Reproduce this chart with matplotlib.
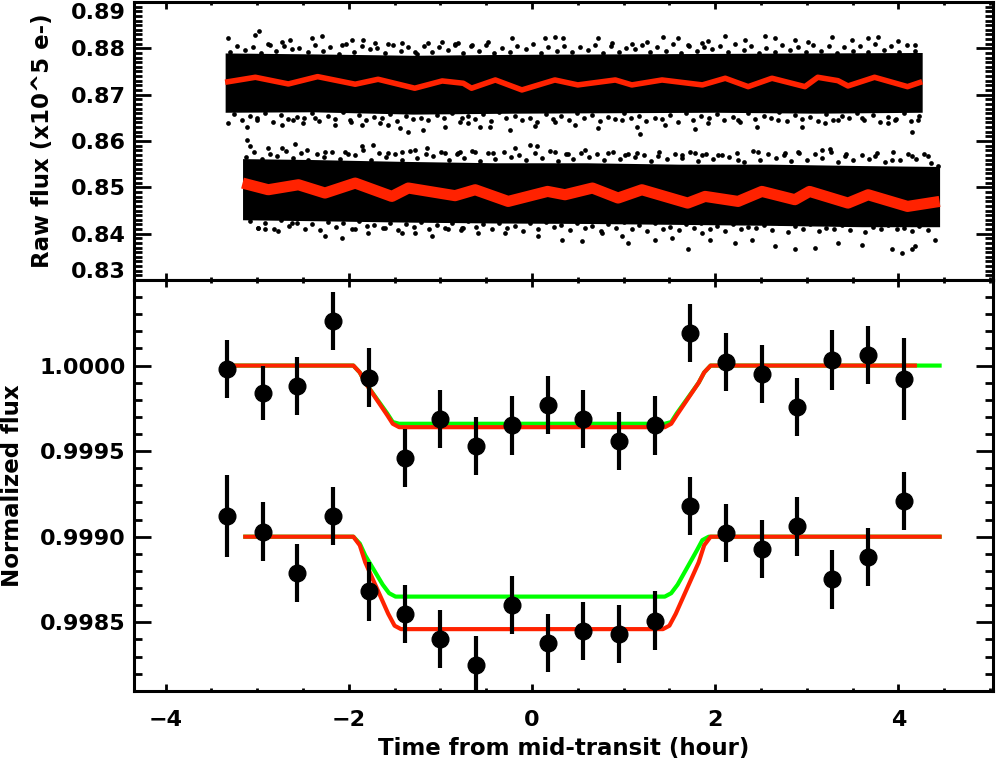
import numpy as np
import matplotlib
matplotlib.use('Agg')
import matplotlib.pyplot as plt
from matplotlib.ticker import MultipleLocator, FormatStrFormatter, FuncFormatter

plt.rcParams['font.family'] = ['DejaVu Sans']
plt.rcParams['font.weight'] = 'bold'

RED = '#ff2200'
GREEN = '#00ff00'

# ---- top panel: raw photometry (two visits) ----
# binned red trend, visit 1 (upper)
raw1_t = [-3.35, -3.02, -2.66, -2.34, -1.93, -1.68, -1.28, -0.98, -0.75, -0.66, -0.40, -0.11, 0.25, 0.50,
	0.91, 1.09, 1.42, 1.86, 2.11, 2.36, 2.62, 2.98, 3.12, 3.34, 3.45, 3.74, 4.10, 4.26]
raw1_f = [0.87268, 0.87375, 0.87231, 0.87389, 0.87225, 0.87332, 0.87139, 0.87296, 0.87246, 0.87139, 0.87317,
	0.87102, 0.87317, 0.87210, 0.87317, 0.87210, 0.87317, 0.87210, 0.87354, 0.87173, 0.87354, 0.87173,
	0.87375, 0.87302, 0.87188, 0.87375, 0.87173, 0.87280]
# binned red trend, visit 2 (lower)
raw2_t = [-3.16, -2.88, -2.55, -2.26, -1.93, -1.53, -1.35, -0.84, -0.62, -0.26, 0.17, 0.36, 0.66, 0.94,
	1.20, 1.70, 1.89, 2.25, 2.51, 2.87, 3.03, 3.45, 3.67, 4.10, 4.45]
raw2_f = [0.85092, 0.84948, 0.85056, 0.84877, 0.85092, 0.84804, 0.84985, 0.84820, 0.84948, 0.84696, 0.84912,
	0.84840, 0.84985, 0.84769, 0.84948, 0.84660, 0.84804, 0.84696, 0.84912, 0.84733, 0.84912, 0.84660,
	0.84840, 0.84588, 0.84696]

# dense part of the unbinned points
env1_t = [-3.35, -2.4, -1.3, -0.2, 0.9, 2.0, 3.1, 4.26]
env1_hi = [0.8790, 0.8788, 0.8785, 0.8787, 0.8788, 0.8789, 0.8790, 0.8791]
env1_lo = [0.8662, 0.8663, 0.8658, 0.8660, 0.8661, 0.8662, 0.8660, 0.8662]
env2_t = [-3.16, -2.4, -1.4, -0.4, 0.6, 1.6, 2.6, 3.6, 4.45]
env2_hi = [0.8562, 0.8560, 0.8556, 0.8553, 0.8553, 0.8550, 0.8550, 0.8547, 0.8545]
env2_lo = [0.8430, 0.8428, 0.8425, 0.8423, 0.8422, 0.8420, 0.8418, 0.8415, 0.8415]

# ragged fringe on the edges of the dense part (inner rows)
fr1a_t = [-3.30, -3.13, -2.96, -2.79, -2.62, -2.45, -2.28, -2.11, -1.94, -1.77, -1.60, -1.43, -1.26, -1.09,
	-0.92, -0.75, -0.58, -0.41, -0.24, -0.07, 0.10, 0.27, 0.44, 0.61, 0.78, 0.95, 1.12, 1.29, 1.46, 1.63,
	1.80, 1.97, 2.14, 2.31, 2.48, 2.65, 2.82, 2.99, 3.16, 3.33, 3.50, 3.67, 3.84, 4.01, 4.18]
fr1a_f = [0.8792, 0.8797, 0.8789, 0.8794, 0.8799, 0.8791, 0.8795, 0.8788, 0.8793, 0.8798, 0.8790, 0.8794,
	0.8787, 0.8792, 0.8796, 0.8790, 0.8795, 0.8789, 0.8793, 0.8799, 0.8790, 0.8794, 0.8792, 0.8797, 0.8789,
	0.8793, 0.8798, 0.8791, 0.8795, 0.8789, 0.8794, 0.8798, 0.8792, 0.8796, 0.8789, 0.8793, 0.8797, 0.8791,
	0.8795, 0.8790, 0.8794, 0.8792, 0.8797, 0.8791, 0.8795]
fr1b_t = [-3.25, -3.08, -2.91, -2.74, -2.57, -2.40, -2.23, -2.06, -1.89, -1.72, -1.55, -1.38, -1.21, -1.04,
	-0.87, -0.70, -0.53, -0.36, -0.19, -0.02, 0.15, 0.32, 0.49, 0.66, 0.83, 1.00, 1.17, 1.34, 1.51, 1.68,
	1.85, 2.02, 2.19, 2.36, 2.53, 2.70, 2.87, 3.04, 3.21, 3.38, 3.55, 3.72, 3.89, 4.06, 4.23]
fr1b_f = [0.8659, 0.8654, 0.8661, 0.8656, 0.8652, 0.8660, 0.8655, 0.8662, 0.8657, 0.8651, 0.8659, 0.8654,
	0.8649, 0.8656, 0.8660, 0.8653, 0.8658, 0.8662, 0.8655, 0.8650, 0.8659, 0.8654, 0.8661, 0.8656, 0.8652,
	0.8660, 0.8655, 0.8649, 0.8657, 0.8661, 0.8654, 0.8659, 0.8652, 0.8660, 0.8655, 0.8662, 0.8657, 0.8651,
	0.8659, 0.8654, 0.8661, 0.8656, 0.8652, 0.8660, 0.8655]
fr2a_t = [-3.12, -2.95, -2.78, -2.61, -2.44, -2.27, -2.10, -1.93, -1.76, -1.59, -1.42, -1.25, -1.08, -0.91,
	-0.74, -0.57, -0.40, -0.23, -0.06, 0.11, 0.28, 0.45, 0.62, 0.79, 0.96, 1.13, 1.30, 1.47, 1.64, 1.81,
	1.98, 2.15, 2.32, 2.49, 2.66, 2.83, 3.00, 3.17, 3.34, 3.51, 3.68, 3.85, 4.02, 4.19, 4.36]
fr2a_f = [0.8565, 0.8561, 0.8568, 0.8563, 0.8559, 0.8566, 0.8562, 0.8569, 0.8560, 0.8565, 0.8558, 0.8563,
	0.8567, 0.8560, 0.8564, 0.8557, 0.8562, 0.8566, 0.8559, 0.8563, 0.8557, 0.8561, 0.8565, 0.8558, 0.8562,
	0.8566, 0.8556, 0.8561, 0.8564, 0.8557, 0.8561, 0.8565, 0.8555, 0.8560, 0.8563, 0.8556, 0.8560, 0.8564,
	0.8554, 0.8559, 0.8562, 0.8555, 0.8559, 0.8562, 0.8553]
fr2b_t = [-3.08, -2.91, -2.74, -2.57, -2.40, -2.23, -2.06, -1.89, -1.72, -1.55, -1.38, -1.21, -1.04, -0.87,
	-0.70, -0.53, -0.36, -0.19, -0.02, 0.15, 0.32, 0.49, 0.66, 0.83, 1.00, 1.17, 1.34, 1.51, 1.68, 1.85,
	2.02, 2.19, 2.36, 2.53, 2.70, 2.87, 3.04, 3.21, 3.38, 3.55, 3.72, 3.89, 4.06, 4.23, 4.40]
fr2b_f = [0.8427, 0.8422, 0.8429, 0.8424, 0.8420, 0.8426, 0.8422, 0.8428, 0.8419, 0.8424, 0.8421, 0.8426,
	0.8418, 0.8423, 0.8427, 0.8420, 0.8424, 0.8417, 0.8422, 0.8426, 0.8419, 0.8423, 0.8416, 0.8421, 0.8425,
	0.8418, 0.8422, 0.8415, 0.8420, 0.8424, 0.8417, 0.8421, 0.8414, 0.8419, 0.8423, 0.8416, 0.8420, 0.8413,
	0.8418, 0.8422, 0.8415, 0.8419, 0.8412, 0.8417, 0.8421]

# thinner fringe a little further out (middle rows)
fr1c_t = [-3.22, -3.05, -2.88, -2.71, -2.54, -2.37, -2.20, -2.03, -1.86, -1.69, -1.52, -1.35, -1.18, -1.01,
	-0.84, -0.67, -0.50, -0.33, -0.16, 0.01, 0.18, 0.35, 0.52, 0.69, 0.86, 1.03, 1.20, 1.37, 1.54, 1.71,
	1.88, 2.05, 2.22, 2.39, 2.56, 2.73, 2.90, 3.07, 3.24, 3.41, 3.58, 3.75, 3.92, 4.09]
fr1c_f = [0.8806, 0.8802, 0.8809, 0.8804, 0.8801, 0.8807, 0.8803, 0.8810, 0.8805, 0.8801, 0.8808, 0.8803,
	0.8806, 0.8802, 0.8809, 0.8804, 0.8807, 0.8801, 0.8805, 0.8810, 0.8803, 0.8806, 0.8802, 0.8808, 0.8804,
	0.8801, 0.8807, 0.8803, 0.8809, 0.8805, 0.8802, 0.8806, 0.8810, 0.8804, 0.8801, 0.8807, 0.8803, 0.8808,
	0.8805, 0.8802, 0.8806, 0.8809, 0.8804, 0.8807]
fr1d_t = [-3.17, -3.00, -2.83, -2.66, -2.49, -2.32, -2.15, -1.98, -1.81, -1.64, -1.47, -1.30, -1.13, -0.96,
	-0.79, -0.62, -0.45, -0.28, -0.11, 0.06, 0.23, 0.40, 0.57, 0.74, 0.91, 1.08, 1.25, 1.42, 1.59, 1.76,
	1.93, 2.10, 2.27, 2.44, 2.61, 2.78, 2.95, 3.12, 3.29, 3.46, 3.63, 3.80, 3.97, 4.14]
fr1d_f = [0.8645, 0.8649, 0.8642, 0.8647, 0.8650, 0.8644, 0.8648, 0.8641, 0.8646, 0.8650, 0.8643, 0.8648,
	0.8645, 0.8649, 0.8642, 0.8647, 0.8644, 0.8650, 0.8646, 0.8641, 0.8648, 0.8645, 0.8649, 0.8643, 0.8647,
	0.8650, 0.8644, 0.8648, 0.8642, 0.8646, 0.8649, 0.8645, 0.8641, 0.8647, 0.8650, 0.8644, 0.8648, 0.8643,
	0.8646, 0.8649, 0.8645, 0.8642, 0.8647, 0.8644]
fr2c_t = [-3.03, -2.86, -2.69, -2.52, -2.35, -2.18, -2.01, -1.84, -1.67, -1.50, -1.33, -1.16, -0.99, -0.82,
	-0.65, -0.48, -0.31, -0.14, 0.03, 0.20, 0.37, 0.54, 0.71, 0.88, 1.05, 1.22, 1.39, 1.56, 1.73, 1.90,
	2.07, 2.24, 2.41, 2.58, 2.75, 2.92, 3.09, 3.26, 3.43, 3.60, 3.77, 3.94, 4.11, 4.28]
fr2c_f = [0.8576, 0.8572, 0.8579, 0.8574, 0.8571, 0.8577, 0.8573, 0.8580, 0.8575, 0.8571, 0.8578, 0.8573,
	0.8576, 0.8572, 0.8578, 0.8574, 0.8576, 0.8570, 0.8574, 0.8579, 0.8572, 0.8575, 0.8571, 0.8577, 0.8573,
	0.8570, 0.8576, 0.8572, 0.8577, 0.8573, 0.8570, 0.8574, 0.8578, 0.8572, 0.8569, 0.8575, 0.8571, 0.8576,
	0.8573, 0.8569, 0.8574, 0.8576, 0.8571, 0.8573]
fr2d_t = [-2.99, -2.82, -2.65, -2.48, -2.31, -2.14, -1.97, -1.80, -1.63, -1.46, -1.29, -1.12, -0.95, -0.78,
	-0.61, -0.44, -0.27, -0.10, 0.07, 0.24, 0.41, 0.58, 0.75, 0.92, 1.09, 1.26, 1.43, 1.60, 1.77, 1.94,
	2.11, 2.28, 2.45, 2.62, 2.79, 2.96, 3.13, 3.30, 3.47, 3.64, 3.81, 3.98, 4.15, 4.32]
fr2d_f = [0.8413, 0.8409, 0.8416, 0.8411, 0.8408, 0.8414, 0.8410, 0.8417, 0.8412, 0.8407, 0.8414, 0.8409,
	0.8412, 0.8408, 0.8415, 0.8410, 0.8413, 0.8406, 0.8411, 0.8415, 0.8408, 0.8412, 0.8406, 0.8413, 0.8409,
	0.8405, 0.8411, 0.8407, 0.8413, 0.8409, 0.8405, 0.8410, 0.8413, 0.8407, 0.8404, 0.8410, 0.8406, 0.8411,
	0.8408, 0.8403, 0.8409, 0.8411, 0.8405, 0.8408]

# sparse points far outside the dense part
out1_t = [-3.315, -3.024, -2.977, -2.860, -2.733, -2.642, -2.405, -2.289, -2.078, -1.969, -1.841, -1.714,
	-1.568, -1.423, -1.277, -1.132, -0.986, -0.840,
	-3.315, -3.115, -3.006, -2.733, -2.606, -2.496, -2.369, -2.151, -1.987, -1.860, -1.659, -1.568,
	-1.441, -1.350, -1.186, -0.950, -0.768,
	-0.804, -0.659, -0.477, -0.222, 0.142, 0.251, 0.342, 0.724, 0.870, 1.088, 1.252, 1.434, 1.598, 1.707, 1.852,
	-0.695, -0.568, -0.458, -0.240, 0.033, 0.251, 0.469, 0.724, 0.979, 1.143, 1.179, 1.452, 1.779,
	1.925, 2.107, 2.325, 2.544, 2.653, 2.871, 3.017, 3.272, 3.490, 3.672, 3.781, 3.999, 4.181,
	1.925, 2.253, 2.453, 2.689, 2.944, 3.199, 3.344, 3.599, 3.890, 3.963, 4.145, 4.218]
out1_f = [0.8822, 0.8829, 0.8837, 0.8807, 0.8814, 0.8818, 0.8822, 0.8827, 0.8807, 0.8818, 0.8818, 0.8811,
	0.8809, 0.8811, 0.8793, 0.8811, 0.8814, 0.8807,
	0.8638, 0.8631, 0.8646, 0.8635, 0.8646, 0.8638, 0.8649, 0.8635, 0.8646, 0.8635, 0.8638, 0.8635,
	0.8628, 0.8620, 0.8624, 0.8631, 0.8649,
	0.8811, 0.8807, 0.8814, 0.8822, 0.8822, 0.8825, 0.8822, 0.8822, 0.8811, 0.8809, 0.8814, 0.8825, 0.8822,
	0.8807, 0.8811,
	0.8638, 0.8631, 0.8631, 0.8624, 0.8633, 0.8642, 0.8635, 0.8628, 0.8646, 0.8631, 0.8615, 0.8635, 0.8626,
	0.8816, 0.8827, 0.8818, 0.8827, 0.8822, 0.8818, 0.8814, 0.8825, 0.8818, 0.8822, 0.8825, 0.8816, 0.8807,
	0.8638, 0.8646, 0.8631, 0.8646, 0.8631, 0.8638, 0.8646, 0.8649, 0.8638, 0.8646, 0.8620, 0.8646]
out2_t = [-3.115, -3.079, -2.878, -2.733, -2.587, -2.460, -2.260, -2.041, -1.860, -1.732, -1.568, -1.423,
	-1.277, -1.150, -0.950, -0.786,
	-2.988, -2.915, -2.769, -2.624, -2.260, -2.078, -1.932, -1.787, -1.605, -1.423, -1.277, -1.095, -0.913, -0.750,
	-0.804, -0.622, -0.422, -0.186, -0.022, 0.051, 0.251, 0.397, 0.579, 0.833, 1.015, 1.143, 1.379, 1.634, 1.779,
	-0.768, -0.586, -0.295, 0.069, 0.324, 0.542, 0.761, 0.979, 1.052, 1.343, 1.525, 1.707, 1.852,
	1.852, 2.034, 2.253, 2.471, 2.762, 2.908, 3.162, 3.253, 3.417, 3.745, 3.927, 4.145, 4.327, 4.436,
	1.943, 2.216, 2.398, 2.653, 2.871, 3.090, 3.344, 3.599, 3.927, 4.036, 4.145, 4.181, 4.400]
out2_f = [0.8603, 0.8590, 0.8585, 0.8585, 0.8594, 0.8581, 0.8577, 0.8577, 0.8590, 0.8592, 0.8574, 0.8577,
	0.8581, 0.8585, 0.8574, 0.8577,
	0.8412, 0.8409, 0.8405, 0.8423, 0.8394, 0.8391, 0.8409, 0.8401, 0.8412, 0.8401, 0.8401, 0.8394, 0.8409, 0.8412,
	0.8574, 0.8577, 0.8574, 0.8585, 0.8592, 0.8590, 0.8577, 0.8572, 0.8581, 0.8575, 0.8570, 0.8574, 0.8567,
	0.8570, 0.8574,
	0.8412, 0.8401, 0.8401, 0.8394, 0.8387, 0.8384, 0.8401, 0.8394, 0.8379, 0.8387, 0.8391, 0.8366, 0.8401,
	0.8570, 0.8570, 0.8559, 0.8577, 0.8574, 0.8577, 0.8581, 0.8582, 0.8567, 0.8567, 0.8559, 0.8568, 0.8567,
	0.8545,
	0.8387, 0.8380, 0.8387, 0.8373, 0.8366, 0.8369, 0.8380, 0.8376, 0.8366, 0.8358, 0.8366, 0.8373, 0.8387]

# ---- bottom panel: binned, normalized light curves ----
bin_t = [-3.33, -2.94, -2.56, -2.17, -1.78, -1.39, -1.00, -0.61, -0.22, 0.17, 0.56, 0.95, 1.34, 1.73,
	2.12, 2.51, 2.89, 3.28, 3.67, 4.06]
lc1_f = [0.99998, 0.99984, 0.99988, 1.00026, 0.99993, 0.99946, 0.99969, 0.99953, 0.99965, 0.99977,
	0.99969, 0.99956, 0.99965, 1.00019, 1.00002, 0.99995, 0.99976, 1.00003, 1.00006, 0.99992]
lc1_e = [0.00017, 0.00016, 0.00017, 0.00017, 0.00017, 0.00017, 0.00017, 0.00017, 0.00017, 0.00017,
	0.00017, 0.00017, 0.00017, 0.00017, 0.00017, 0.00017, 0.00017, 0.000175, 0.00017, 0.00024]
lc2_f = [0.99912, 0.99903, 0.99879, 0.99912, 0.99868, 0.99855, 0.99840, 0.99825, 0.99860, 0.99838,
	0.99845, 0.99843, 0.99851, 0.99918, 0.99902, 0.99893, 0.99906, 0.99875, 0.99888, 0.99921]
lc2_e = [0.00024, 0.00017, 0.00017, 0.00017, 0.00017, 0.00017, 0.00017, 0.00017, 0.00017, 0.00017,
	0.00017, 0.00017, 0.00017, 0.00017, 0.00017, 0.00017, 0.00017, 0.00017, 0.00017, 0.00017]

# transit models
m1r_t = [-3.33, -1.95, -1.88, -1.82, -1.58, -1.52, -1.45, 1.45, 1.52, 1.58, 1.82, 1.88, 1.95, 4.18]
m1r_f = [1.0, 1.0, 0.99996, 0.99990, 0.99971, 0.99966, 0.99964, 0.99964, 0.99966, 0.99971, 0.99990,
	0.99996, 1.0, 1.0]
m1g_t = [-3.33, -1.95, -1.88, -1.82, -1.58, -1.52, -1.45, 1.45, 1.52, 1.58, 1.82, 1.88, 1.95, 4.45]
m1g_f = [1.0, 1.0, 0.99996, 0.99990, 0.99972, 0.99967, 0.99966, 0.99966, 0.99967, 0.99972, 0.99990,
	0.99996, 1.0, 1.0]
m2r_t = [-3.13, -1.95, -1.88, -1.82, -1.57, -1.50, -1.43, 1.43, 1.50, 1.57, 1.82, 1.88, 1.95, 4.45]
m2r_f = [0.9990, 0.9990, 0.99895, 0.99885, 0.99855, 0.99848, 0.99846, 0.99846, 0.99848, 0.99855,
	0.99885, 0.99895, 0.9990, 0.9990]
m2g_t = [-3.13, -1.95, -1.88, -1.82, -1.63, -1.56, -1.49, 1.45, 1.52, 1.59, 1.80, 1.86, 1.93, 4.45]
m2g_f = [0.9990, 0.9990, 0.99896, 0.99889, 0.99872, 0.99867, 0.99865, 0.99865, 0.99867, 0.99872,
	0.99892, 0.99898, 0.9990, 0.9990]

top_ticks = [0.83, 0.84, 0.85, 0.86, 0.87, 0.88, 0.89]
bot_ticks = [0.9985, 0.9990, 0.9995, 1.0000]


def style(ax, yminor):
	for s in ax.spines.values():
		s.set_linewidth(2.2)
	ax.set_xlim(-4.345, 5.03)
	ax.xaxis.set_major_locator(MultipleLocator(2))
	ax.xaxis.set_minor_locator(MultipleLocator(0.5))
	ax.yaxis.set_minor_locator(MultipleLocator(yminor))
	ax.tick_params(which='both', direction='in', top=True, right=True, width=2.0, labelsize=16)
	ax.tick_params(axis='x', which='major', length=5, pad=14)
	ax.tick_params(axis='x', which='minor', length=2.5)
	ax.tick_params(axis='y', which='major', length=12, pad=6)
	ax.tick_params(axis='y', which='minor', length=6)


fig = plt.figure(figsize=(9.97, 7.64), dpi=100)
ax1 = fig.add_axes([0.1344, 0.6335, 0.8613, 0.3639])
ax2 = fig.add_axes([0.1344, 0.0959, 0.8613, 0.5376])

# top panel
ax1.fill_between(env1_t, env1_lo, env1_hi, color='k', lw=0)
ax1.fill_between(env2_t, env2_lo, env2_hi, color='k', lw=0)
for tt, ff in [(fr1a_t, fr1a_f), (fr1b_t, fr1b_f), (fr2a_t, fr2a_f), (fr2b_t, fr2b_f),
		(fr1c_t, fr1c_f), (fr1d_t, fr1d_f), (fr2c_t, fr2c_f), (fr2d_t, fr2d_f),
		(out1_t, out1_f), (out2_t, out2_f)]:
	ax1.plot(tt, ff, 'o', color='k', ms=3.4, mew=0)
ax1.plot(raw1_t, raw1_f, '-', color=RED, lw=4, solid_capstyle='butt')
ax1.plot(raw2_t, raw2_f, '-', color=RED, lw=8, solid_capstyle='butt')
ax1.set_ylim(0.83, 0.89)
ax1.set_yticks(top_ticks)
# end labels sit inside the frame, drawn separately below
ax1.yaxis.set_major_formatter(FuncFormatter(lambda v, p: '' if (v > 0.8895 or v < 0.8305) else '%.2f' % v))
style(ax1, 0.001)
ax1.tick_params(axis='x', labelbottom=False)
for v, dy in [(0.89, -8), (0.83, 6)]:
	ax1.annotate('%.2f' % v, xy=(0, v), xycoords=('axes fraction', 'data'), xytext=(-6, dy),
		textcoords='offset points', ha='right', va='center', fontsize=16, fontweight='bold')
ax1.set_ylabel('Raw flux (x10^5 e-)', fontsize=16.5, fontweight='bold', va='center', ha='center')
ax1.yaxis.set_label_coords(-0.107, 0.5)

# bottom panel
ax2.plot(m1g_t, m1g_f, '-', color=GREEN, lw=3)
ax2.plot(m1r_t, m1r_f, '-', color=RED, lw=3)
ax2.plot(m2g_t, m2g_f, '-', color=GREEN, lw=3)
ax2.plot(m2r_t, m2r_f, '-', color=RED, lw=3)
ax2.errorbar(bin_t, lc1_f, yerr=lc1_e, fmt='o', color='k', ms=12, elinewidth=3, capsize=0)
ax2.errorbar(bin_t, lc2_f, yerr=lc2_e, fmt='o', color='k', ms=12, elinewidth=3, capsize=0)
ax2.set_ylim(0.9981, 1.0005)
ax2.set_yticks(bot_ticks)
ax2.yaxis.set_major_formatter(FormatStrFormatter('%.4f'))
style(ax2, 0.0001)
ax2.set_xlabel('Time from mid-transit (hour)', fontsize=16.5, fontweight='bold', va='center')
ax2.xaxis.set_label_coords(0.5, -0.1395)
ax2.set_ylabel('Normalized flux', fontsize=16.5, fontweight='bold', va='center', ha='center')
ax2.yaxis.set_label_coords(-0.1416, 0.5)

plt.savefig('out.png', dpi=100)
plt.close()
